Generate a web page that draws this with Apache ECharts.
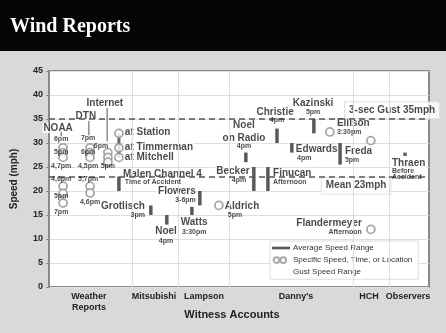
<!DOCTYPE html>
<html>
<head>
<meta charset="utf-8">
<script src="https://cdn.jsdelivr.net/npm/echarts@6/dist/echarts.min.js"></script>
<style>
  html, body { margin: 0; padding: 0; background: #d9d9d9; }
  #chart { width: 446px; height: 333px; }
</style>
</head>
<body>
<div id="chart"></div>
<script>
// x runs 0..100 across the plot, y is speed in mph
var categories = ['Weather\nReports', 'Mitsubishi', 'Lampson', "Danny's", 'HCH', 'Observers'];
var categoryCenters = [10.5, 27.6, 40.8, 65, 84.2, 94.5];
var categoryEdges = [22, 34, 47.5, 80, 89.5];

// average speed ranges: [x, low, high]
var avgRanges = [
    [18.4, 20, 23],    // Malen Channel 4
    [26.8, 15, 17],    // Grotlisch
    [31, 13, 15],      // Noel
    [37.6, 15, 16.7],  // Watts
    [39.7, 17, 20],    // Flowers
    [51.8, 26, 28],    // Noel on Radio
    [53.9, 20, 25],    // Becker
    [57.6, 20, 25],    // Finucan
    [60, 30, 33],      // Christie
    [63.9, 28, 30],    // Edwards
    [69.7, 32, 35],    // Kazinski
    [76.6, 25.5, 30],  // Freda
    [93.7, 27.3, 28]   // Thraen
];

// specific speeds: [x, mph]
var specificPoints = [
    [3.7, 29], [3.7, 28], [3.7, 27], [3.7, 21], [3.7, 19.5], [3.7, 17.5],   // NOAA
    [10.8, 29], [10.8, 28], [10.8, 27], [10.8, 21], [10.8, 19.6],          // DTN
    [15.5, 28], [15.5, 27], [15.5, 26],                                    // Internet
    [18.4, 32], [18.4, 29], [18.4, 27],                                    // stations
    [44.7, 17],                                                            // Aldrich
    [73.9, 32.3],                                                          // Ellison
    [84.7, 30.5], [84.7, 12]                                               // HCH
];

var gustRanges = [[18.4, 27, 32]];
var leaders = [[3.2, 31.4, 32.3], [10.5, 31.6, 34.6], [15.3, 30.3, 37.3]];
var refLines = [35, 23];

// [text, x, mph, align, boxed]
var bigNotes = [
    ['NOAA', 2.4, 33.1, 'center'],
    ['DTN', 9.7, 35.6, 'center'],
    ['Internet', 14.7, 38.3, 'center'],
    ['at Station', 19.7, 32.3, 'left'],
    ['at Timmerman', 19.7, 29.2, 'left'],
    ['at Mitchell', 19.7, 27.1, 'left'],
    ['Malen Channel 4', 19.2, 23.5, 'left'],
    ['Grotlisch', 25.5, 16.9, 'right'],
    ['Noel', 30.8, 11.7, 'center'],
    ['Flowers', 38.9, 20, 'right'],
    ['Watts', 38.2, 13.5, 'center'],
    ['Aldrich', 46, 16.9, 'left'],
    ['Noel', 51.3, 33.8, 'center'],
    ['on Radio', 51.3, 31, 'center'],
    ['Becker', 48.4, 24.2, 'center'],
    ['Finucan', 58.7, 23.8, 'left'],
    ['Christie', 59.5, 36.5, 'center'],
    ['Edwards', 64.7, 28.75, 'left'],
    ['Kazinski', 69.5, 38.3, 'center'],
    ['Ellison', 75.5, 34.2, 'left'],
    ['Freda', 77.6, 28.3, 'left'],
    ['Flandermeyer', 82.6, 13.3, 'right'],
    ['Thraen', 90, 25.8, 'left'],
    ['3-sec Gust 35mph', 77.9, 36.8, 'left', true],
    ['Mean 23mph', 71.8, 21.1, 'left', true]
];

var smallNotes = [
    ['6pm', 3.2, 30.8, 'center'], ['5pm', 3.2, 28.1, 'center'], ['4,7pm', 3.2, 25.2, 'center'],
    ['4,6pm', 3.2, 22.5, 'center'], ['5pm', 3.2, 19, 'center'], ['7pm', 3.2, 15.6, 'center'],
    ['7pm', 10.3, 31, 'center'], ['6pm', 10.3, 28.1, 'center'], ['4,5pm', 10.3, 25.2, 'center'],
    ['5,7pm', 10.3, 22.5, 'center'], ['4,6pm', 10.8, 17.7, 'center'],
    ['6pm', 13.7, 29.4, 'center'], ['5pm', 15.5, 25.2, 'center'],
    ['Time of Accident', 19.7, 21.9, 'left'],
    ['3pm', 25.5, 15, 'right'],
    ['4pm', 30.8, 9.6, 'center'],
    ['3-6pm', 38.9, 18.1, 'right'],
    ['3:30pm', 38.2, 11.5, 'center'],
    ['5pm', 46.8, 15, 'left'],
    ['4pm', 51.3, 29.4, 'center'],
    ['4pm', 50, 22.3, 'center'],
    ['Afternoon', 58.7, 21.9, 'left'],
    ['4pm', 60, 34.8, 'center'],
    ['4pm', 65, 26.9, 'left'],
    ['5pm', 69.5, 36.5, 'center'],
    ['3:30pm', 75.5, 32.3, 'left'],
    ['5pm', 77.6, 26.5, 'left'],
    ['Afternoon', 82.6, 11.5, 'right'],
    ['Before', 90, 24.2, 'left'],
    ['Accident', 90, 22.9, 'left']
];

var FONT = '"Liberation Sans", Arial, sans-serif';

function noteData(list, size) {
    return list.map(function (n) {
        var boxed = n[4];
        return {
            value: [n[1], n[2]],
            label: {
                formatter: n[0],
                align: n[3],
                fontSize: size,
                backgroundColor: boxed ? '#fff' : (size > 8 ? '#fff' : 'transparent'),
                borderColor: boxed ? '#ddd' : 'transparent',
                borderWidth: boxed ? 1 : 0,
                padding: boxed ? [3, 4] : [0, 1]
            }
        };
    });
}

function segment(stroke, width) {
    return function (params, api) {
        var p1 = api.coord([api.value(0), api.value(1)]);
        var p2 = api.coord([api.value(0), api.value(2)]);
        return {
            type: 'line',
            shape: { x1: p1[0], y1: p1[1], x2: p2[0], y2: p2[1] },
            style: { stroke: stroke, lineWidth: width }
        };
    };
}

var myChart = echarts.init(document.getElementById('chart'));

var option = {
    backgroundColor: '#d9d9d9',
    animation: false,
    textStyle: { fontFamily: FONT },
    graphic: [{
        type: 'rect', left: 0, top: 0, z: 0,
        shape: { width: 446, height: 51 },
        style: { fill: '#050505' }
    }],
    title: {
        text: 'Wind Reports',
        left: 10, top: 17, padding: 0,
        textStyle: { color: '#fff', fontFamily: '"Liberation Serif", serif', fontWeight: 'bold', fontSize: 20 }
    },
    legend: {
        orient: 'vertical',
        left: 270, top: 241,
        padding: [3, 6, 3, 1],
        itemWidth: 18, itemHeight: 8, itemGap: 3.5,
        backgroundColor: '#fff',
        borderColor: '#ddd', borderWidth: 1,
        textStyle: { fontSize: 8, color: '#333', padding: [0, 0, 0, -2] },
        data: [
            { name: 'Average Speed Range', icon: 'path://M0,0M20,8M0,2.5h20v3h-20z' },
            { name: 'Specific Speed, Time, or Location',
              icon: 'path://M0,0M20,8M1.8,4a3.2,3.2 0 1,0 6.4,0a3.2,3.2 0 1,0 -6.4,0M9.3,4a3.2,3.2 0 1,0 6.4,0a3.2,3.2 0 1,0 -6.4,0' },
            { name: 'Gust Speed Range', icon: 'rect', itemStyle: { opacity: 0 } }
        ]
    },
    grid: {
        left: 49, right: 17, top: 71, bottom: 46,
        show: true, backgroundColor: '#fff',
        borderColor: '#8a8a8a', borderWidth: 2
    },
    xAxis: {
        type: 'value', min: 0, max: 100,
        name: 'Witness Accounts',
        nameLocation: 'middle', nameGap: 22,
        nameMoveOverlap: false,
        nameTextStyle: { fontSize: 11, fontWeight: 'bold', color: '#222', verticalAlign: 'top', padding: [0, 14, 0, 0] },
        axisLine: { show: false },
        axisTick: { show: false },
        splitLine: { show: false },
        axisLabel: {
            customValues: categoryCenters,
            formatter: function (v) {
                var i = categoryCenters.indexOf(v);
                return i >= 0 ? categories[i] : '';
            },
            fontSize: 9, fontWeight: 'bold', color: '#222',
            lineHeight: 11, margin: 4
        }
    },
    yAxis: {
        type: 'value', min: 0, max: 45, interval: 5,
        name: 'Speed (mph)',
        nameLocation: 'middle', nameGap: 30,
        nameMoveOverlap: false,
        nameTextStyle: { fontSize: 10, fontWeight: 'bold', color: '#222' },
        axisLine: { show: true, lineStyle: { color: '#8a8a8a', width: 2 } },
        axisTick: { show: true, length: 3, lineStyle: { color: '#8a8a8a' } },
        axisLabel: { fontSize: 9, fontWeight: 'bold', color: '#222', margin: 6 },
        splitLine: { lineStyle: { color: '#dedede', width: 1 } }
    },
    series: [
        {
            type: 'line', data: [], z: 1, silent: true,
            markLine: {
                silent: true, symbol: ['none', 'none'], label: { show: false },
                lineStyle: { color: '#dedede', width: 1, type: 'solid' },
                data: categoryEdges.map(function (v) { return { xAxis: v }; })
            }
        },
        {
            type: 'line', data: [], z: 2, silent: true,
            markLine: {
                silent: true, symbol: ['none', 'none'], label: { show: false },
                lineStyle: { color: '#555', width: 1.5, type: [6, 4] },
                data: refLines.map(function (v) { return { yAxis: v }; })
            }
        },
        {
            type: 'scatter', z: 3, silent: true, symbolSize: 0,
            data: noteData(bigNotes, 10),
            label: { show: true, position: 'inside', verticalAlign: 'middle', fontWeight: 'bold', color: '#1a1a1a' }
        },
        {
            type: 'custom', z: 4, silent: true,
            renderItem: segment('#555', 1),
            data: leaders
        },
        {
            name: 'Gust Speed Range',
            type: 'custom', z: 4, silent: true,
            itemStyle: { color: '#6a6a6a' },
            renderItem: segment('#6a6a6a', 3),
            data: gustRanges
        },
        {
            name: 'Average Speed Range',
            type: 'custom', z: 4, silent: true,
            itemStyle: { color: '#5a5a5a' },
            renderItem: segment('#5a5a5a', 3.5),
            data: avgRanges
        },
        {
            name: 'Specific Speed, Time, or Location',
            type: 'scatter', z: 5, silent: true,
            symbol: 'circle', symbolSize: 8,
            itemStyle: { color: '#fff', borderColor: '#929292', borderWidth: 1.8 },
            data: specificPoints
        },
        {
            type: 'scatter', z: 6, silent: true, symbolSize: 0,
            data: noteData(smallNotes, 7),
            label: { show: true, position: 'inside', verticalAlign: 'middle', fontWeight: 'bold', color: '#1a1a1a' }
        }
    ]
};

myChart.setOption(option);
window.addEventListener('resize', function () {
    myChart.resize();
});
</script>
</body>
</html>
